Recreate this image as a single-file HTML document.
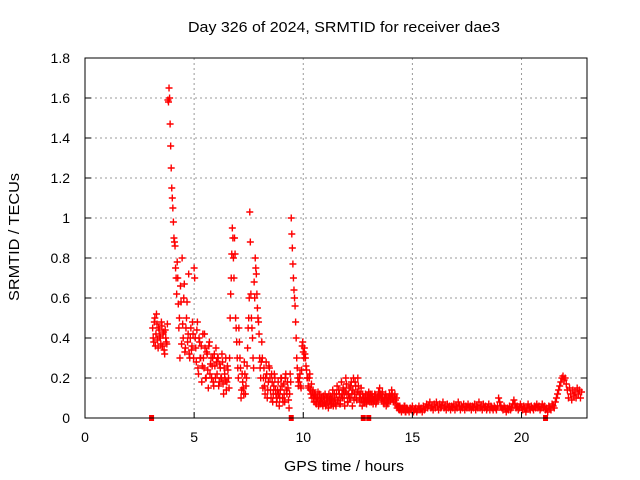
<!DOCTYPE html>
<html><head><meta charset="utf-8"><style>
body{margin:0;background:#fff}
svg{display:block;font-family:"Liberation Sans",sans-serif}
</style></head><body>
<svg id="chart" width="640" height="480">
<text x="188" y="32" font-size="15" textLength="312" lengthAdjust="spacingAndGlyphs">Day 326 of 2024, SRMTID for receiver dae3</text>
<text x="284" y="471" font-size="15" textLength="120" lengthAdjust="spacingAndGlyphs">GPS time / hours</text>
<text transform="translate(19,301) rotate(-90)" font-size="15" textLength="128" lengthAdjust="spacingAndGlyphs">SRMTID / TECUs</text>
<g id="grid"></g><g id="marks"></g><g id="axes"></g>
</svg>
<script>
const xTicks=[0,5,10,15,20];
const yTicks=[0,0.2,0.4,0.6,0.8,1,1.2,1.4,1.6,1.8];
const yTickLabels=["0","0.2","0.4","0.6","0.8","1","1.2","1.4","1.6","1.8"];
const startHour=3.1;
const stepHour=0.05;
const srmtid=[0.45,0.38,0.5,0.42,0.47,0.35,0.44,0.4,0.48,0.36,0.43,0.32,0.4,0.37,
1.59,1.65,1.47,1.25,1.1,0.98,0.88,0.75,0.62,0.7,0.45,0.3,0.58,0.8,0.4,0.67,0.35,0.5,0.38,0.72,
0.3,0.45,0.36,0.42,0.75,0.4,0.28,0.48,0.22,0.38,0.3,0.18,0.42,0.25,0.35,0.2,0.32,0.15,0.38,0.27,
0.2,0.3,0.16,0.26,0.35,0.22,0.3,0.18,0.25,0.2,0.28,0.12,0.22,0.3,0.18,0.24,0.15,0.5,0.7,0.95,
0.8,0.9,0.5,0.38,0.25,0.45,0.3,0.1,0.22,0.15,0.28,0.12,0.2,0.35,0.5,1.03,0.62,0.45,0.3,0.68,
0.8,0.72,0.55,0.48,0.3,0.2,0.38,0.15,0.25,0.12,0.28,0.1,0.18,0.25,0.14,0.22,0.08,0.16,0.2,0.12,
0.1,0.18,0.06,0.14,0.2,0.1,0.17,0.08,0.22,0.12,0.15,0.05,0.22,1.0,0.85,0.7,0.6,0.48,0.3,0.2,
0.18,0.22,0.15,0.36,0.33,0.35,0.3,0.24,0.2,0.15,0.22,0.12,0.1,0.14,0.08,0.11,0.07,0.1,0.06,0.12,
0.08,0.1,0.06,0.09,0.12,0.07,0.1,0.05,0.09,0.11,0.07,0.14,0.08,0.1,0.06,0.16,0.09,0.12,0.07,0.18,
0.1,0.14,0.06,0.2,0.12,0.08,0.15,0.1,0.18,0.06,0.2,0.12,0.16,0.09,0.2,0.13,0.08,0.15,0.06,0.1,
0.08,0.12,0.07,0.1,0.13,0.08,0.1,0.12,0.07,0.09,0.11,0.08,0.1,0.13,0.15,0.12,0.09,0.1,0.07,0.09,
0.06,0.08,0.1,0.12,0.09,0.14,0.1,0.08,0.12,0.07,0.05,0.06,0.04,0.05,0.03,0.05,0.04,0.06,0.03,0.05,
0.04,0.03,0.05,0.04,0.06,0.03,0.04,0.05,0.03,0.04,0.06,0.04,0.05,0.03,0.06,0.04,0.05,0.07,0.05,0.06,
0.08,0.05,0.06,0.04,0.07,0.05,0.08,0.06,0.04,0.07,0.05,0.06,0.08,0.05,0.06,0.04,0.07,0.05,0.06,0.04,
0.06,0.05,0.07,0.04,0.06,0.05,0.08,0.06,0.04,0.06,0.05,0.07,0.04,0.06,0.05,0.07,0.05,0.06,0.04,0.06,
0.05,0.07,0.04,0.06,0.05,0.08,0.05,0.06,0.04,0.07,0.05,0.06,0.04,0.05,0.07,0.04,0.06,0.05,0.04,0.06,
0.05,0.04,0.06,0.1,0.08,0.06,0.05,0.04,0.06,0.05,0.03,0.05,0.04,0.06,0.04,0.05,0.07,0.09,0.07,0.05,
0.06,0.04,0.05,0.07,0.05,0.04,0.06,0.05,0.03,0.05,0.07,0.05,0.04,0.06,0.05,0.04,0.06,0.05,0.07,0.05,
0.06,0.04,0.05,0.07,0.05,0.06,0.04,0.05,0.03,0.06,0.05,0.04,0.07,0.06,0.05,0.08,0.1,0.12,0.14,0.16,
0.18,0.2,0.21,0.19,0.2,0.17,0.14,0.1,0.15,0.12,0.09,0.14,0.11,0.13,0.1,0.15,0.12,0.14,0.1,0.13];
// second receiver-pass samples, offset by half a step
const startHour2=3.125;
const srmtid2=[0.4,0.48,0.36,0.52,0.39,0.45,0.41,0.37,0.46,0.42,0.34,0.44,0.38,0.47,
1.58,1.6,1.36,1.15,1.05,0.9,0.86,0.7,0.78,0.57,0.5,0.66,0.37,0.47,0.6,0.33,0.45,0.58,0.42,0.32,
0.4,0.34,0.48,0.3,0.7,0.35,0.44,0.25,0.4,0.3,0.36,0.26,0.3,0.42,0.2,0.33,0.24,0.36,0.22,0.3,
0.26,0.18,0.32,0.2,0.28,0.3,0.16,0.27,0.2,0.32,0.17,0.25,0.19,0.14,0.26,0.2,0.3,0.62,0.82,0.9,
0.7,0.82,0.45,0.3,0.2,0.38,0.25,0.14,0.18,0.12,0.22,0.16,0.26,0.45,0.6,0.88,0.5,0.4,0.25,0.6,
0.75,0.62,0.5,0.42,0.25,0.28,0.3,0.2,0.16,0.2,0.22,0.14,0.26,0.2,0.1,0.18,0.12,0.22,0.14,0.08,
0.14,0.12,0.1,0.2,0.16,0.08,0.12,0.2,0.14,0.18,0.09,0.12,0.18,0.92,0.77,0.64,0.56,0.4,0.25,0.16,
0.2,0.16,0.24,0.38,0.3,0.32,0.26,0.2,0.16,0.2,0.14,0.17,0.13,0.1,0.12,0.08,0.1,0.13,0.09,0.07,
0.1,0.07,0.11,0.08,0.06,0.1,0.08,0.12,0.07,0.09,0.1,0.06,0.12,0.07,0.12,0.09,0.14,0.07,0.1,0.12,
0.15,0.1,0.13,0.17,0.08,0.12,0.1,0.16,0.12,0.14,0.09,0.18,0.1,0.13,0.16,0.1,0.12,0.09,0.12,0.08,
0.1,0.08,0.11,0.09,0.1,0.12,0.08,0.1,0.09,0.12,0.07,0.1,0.09,0.11,0.12,0.1,0.13,0.08,0.1,0.12,
0.1,0.07,0.09,0.11,0.1,0.12,0.08,0.11,0.09,0.1,0.06,0.05,0.06,0.04,0.05,0.04,0.06,0.03,0.05,0.04];
const zeroHours=[3.05,9.45,12.75,13.0,21.1];
const X0=85,X1=587,Y0=418,Y1=58,XMAX=23,YMAX=1.8;
const xs=v=>X0+(X1-X0)*v/XMAX;
const ys=v=>Y0-(Y0-Y1)*v/YMAX;
const NS="http://www.w3.org/2000/svg";
function mk(tag,attrs,parent){const e=document.createElementNS(NS,tag);for(const k in attrs)e.setAttribute(k,attrs[k]);parent.appendChild(e);return e;}
const grid=document.getElementById('grid'),marks=document.getElementById('marks'),axes=document.getElementById('axes');
xTicks.forEach(t=>{
  if(t>0){const g=mk('line',{x1:xs(t),x2:xs(t),y1:Y1,y2:Y0,stroke:'#999','stroke-dasharray':'2,3'},grid);
  
  }
  mk('line',{x1:xs(t),x2:xs(t),y1:Y0,y2:Y0-6,stroke:'#000'},axes);
  const l=mk('text',{x:xs(t),y:Y0+24,'font-size':14,'text-anchor':'middle'},axes);l.textContent=t;
  
  
});
yTicks.forEach((t,i)=>{
  if(t>0&&t<YMAX){const g=mk('line',{x1:X0,x2:X1,y1:ys(t),y2:ys(t),stroke:'#999','stroke-dasharray':'2,3'},grid);
  
  }
  mk('line',{x1:X0,x2:X0+6,y1:ys(t),y2:ys(t),stroke:'#000'},axes);
  mk('line',{x1:X1,x2:X1-6,y1:ys(t),y2:ys(t),stroke:'#000'},axes);
  const l=mk('text',{x:X0-15,y:ys(t)+5,'font-size':14,'text-anchor':'end'},axes);l.textContent=yTickLabels[i];
  
  
});
const fr=mk('rect',{x:X0,y:Y1,width:X1-X0,height:Y0-Y1,fill:'none',stroke:'#000'},axes);


function plus(x,y){
  const p=mk('path',{d:`M${x-3.5},${y}h7M${x},${y-3.5}v7`,stroke:'#f00','stroke-width':1.4,fill:'none'},marks);
  
  
}
srmtid.forEach((v,i)=>plus(xs(startHour+i*stepHour),ys(v)));
srmtid2.forEach((v,i)=>plus(xs(startHour2+i*stepHour),ys(v)));
zeroHours.forEach(h=>{
  const r=mk('rect',{x:xs(h)-2.5,y:Y0-3,width:5,height:6,fill:'#f00'},marks);
  
  
});
</script>
</body></html>
